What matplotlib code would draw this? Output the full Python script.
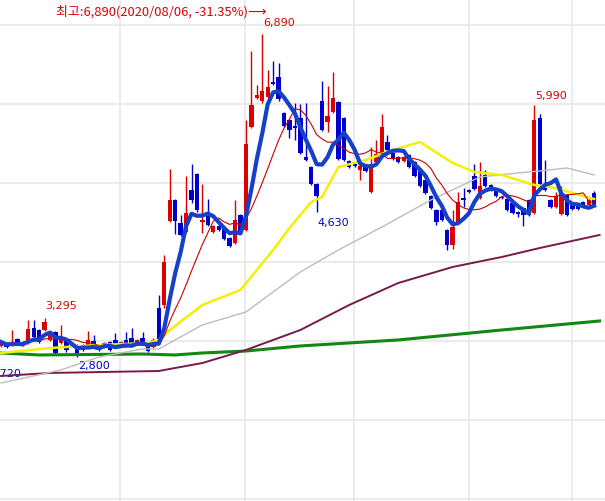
import matplotlib
matplotlib.use("Agg")
import matplotlib.pyplot as plt
import numpy as np
import pandas as pd

opens = [2937,2975,2949,3025,2987,2975,3165,3139,3139,3013,3114,2975,3013,2937,2949,2949,2924,3000,2949,2924,
         2987,3013,2949,3013,3038,2975,3038,2975,2924,3418,3456,4519,4785,4494,4380,4912,5114,4506,4595,4380,
         4456,4443,4304,4241,4595,4405,5709,6076,6038,6089,6279,6342,5886,5798,5722,5823,5329,5203,4988,6038,
         5773,5899,6026,5823,5279,5241,5165,5228,4886,5266,5393,5519,5380,5329,5279,5355,5266,5152,5038,4836,
         4658,4658,4405,4215,4506,4810,4912,5089,4810,5102,4975,4924,4823,4798,4747,4633,4684,4785,4620,5823,
         4975,4785,4696,4608,4848,4722,4722,4760,4722,4874]
highs = [3000,2987,3139,3038,3000,3266,3266,3152,3295,3114,3127,3203,3025,2987,2962,2962,3127,3076,2962,2987,
         3000,3101,3000,3114,3165,3025,3114,2987,3038,3582,4089,5177,4798,4595,5089,5241,5127,4988,4798,4468,
         4468,4456,4316,4785,4608,5798,6671,6241,6890,6431,6545,6519,5899,5811,6013,6000,6013,5215,5000,6292,
         6228,6405,6038,5836,5291,5253,5228,5241,5456,5545,5874,5608,5393,5342,5342,5367,5279,5165,5051,4848,
         4671,4671,4418,4658,4886,4937,4924,5241,5266,5165,4988,4937,4836,4810,4760,4646,4696,4798,5990,5874,
         5291,4798,4886,4962,4861,4734,4734,4772,4798,4899]
lows = [2924,2911,2937,2949,2937,2962,3038,2975,3127,3000,2836,2962,2861,2924,2800,2874,2911,2911,2874,2911,
        2874,2924,2937,2924,2937,2962,2949,2861,2911,2962,3418,4506,4354,4329,4367,4747,4633,4367,4456,4367,
        4392,4279,4190,4228,4367,4392,5697,6064,6013,6076,6241,6038,5709,5570,5545,5367,5279,4975,4630,5659,
        5646,5886,5291,5279,5190,5203,5038,5140,4874,5253,5380,5405,5291,5253,5266,5190,5076,4950,4861,4671,
        4468,4519,4152,4165,4494,4696,4874,4912,4798,4950,4899,4823,4798,4646,4608,4570,4456,4582,4608,4975,
        4899,4684,4684,4595,4582,4658,4658,4696,4709,4709]
closes = [2987,2924,2975,2962,2949,3152,3051,2987,3241,3101,2848,3013,2886,2975,2823,2886,3013,2924,2886,2975,
          2886,2937,2987,2937,2949,3013,2962,2874,3013,2975,4000,4785,4519,4342,4620,4785,4658,4532,4468,4456,
          4405,4291,4203,4532,4380,5494,5988,6114,6165,6216,6254,6064,5722,5671,5697,5380,5291,4988,4836,5671,
          5848,6076,5304,5291,5203,5215,5215,5152,5241,5367,5709,5418,5304,5266,5329,5203,5089,4962,4874,4684,
          4506,4532,4215,4443,4760,4785,4886,4924,4962,4962,4912,4836,4810,4658,4620,4608,4595,4595,5798,4988,
          4912,4696,4836,4874,4595,4671,4671,4709,4785,4722]

# longer moving averages (day index, price)
ma20_k = [0,9,18,27,29,31,37,44,50,53,57,59,62,67,72,77,83,87,92,98,102,105,109]
ma20_p = [2848,2911,2949,2975,3013,3139,3456,3646,4152,4430,4760,4823,5203,5291,5418,5519,5253,5140,5102,4975,4937,4874,4798]
ma60_k = [0,11,18,26,29,37,45,55,62,70,79,88,95,99,104,109]
ma60_p = [2468,2633,2797,2899,2899,3203,3367,3874,4152,4443,4785,5076,5127,5152,5190,5102]
ma120_k = [0,9,29,30,37,45,55,64,73,83,92,99,110]
ma120_p = [2557,2595,2620,2633,2721,2886,3139,3456,3734,3937,4063,4177,4342]
ma240_k = [0,7,26,32,37,45,55,73,92,110]
ma240_p = [2848,2823,2835,2823,2848,2873,2937,3013,3139,3253]

RED = "#dd0000"
BLUE = "#0000cc"

fig = plt.figure(figsize=(6.05, 5.01), dpi=100)
ax = fig.add_axes([0, 0, 1, 1])
ax.set_xlim(-0.2, 111)
ax.set_ylim(974, 7317)
for s in ax.spines.values():
    s.set_visible(False)
ax.set_xticks([])
ax.set_yticks([])

for p in [1000, 2000, 3000, 4000, 5000, 6000, 7000]:
    ax.axhline(p, color="#e6e6e6", lw=1.1, zorder=0)
for k in [21.9, 44.9, 64.9, 86.0, 105.0]:
    ax.axvline(k, color="#e6e6e6", lw=1.1, zorder=0)

n = len(closes)
idx = np.arange(n)
for i in range(n):
    o, h, l, c = opens[i], highs[i], lows[i], closes[i]
    col = RED if c >= o else BLUE
    ax.vlines(i, l, h, color=col, lw=1, zorder=2)
    ax.bar(i, max(abs(c - o), 15), bottom=min(o, c), width=0.8, color=col, zorder=3, linewidth=0)

ser = pd.Series(closes, dtype=float)
ma5 = ser.rolling(5, min_periods=1).mean()
ma10 = ser.rolling(10, min_periods=1).mean()

ax.plot(ma240_k, ma240_p, color="#118811", lw=2.2, zorder=4)
ax.plot(ma120_k, ma120_p, color="#7a1a4a", lw=1.4, zorder=4)
ax.plot(ma60_k, ma60_p, color="#bdbdbd", lw=1.0, zorder=4)
ax.plot(ma20_k, ma20_p, color="#f2f200", lw=1.8, zorder=4)
ax.plot(idx, ma10, color="#cc0000", lw=0.8, zorder=4)
ax.plot(idx, ma5, color="#1540c8", lw=3.0, zorder=5)

fs = 8
ax.text(51.1, 7026, "6,890", color=RED, fontsize=fs, ha="center", va="center")
ax.text(11, 3443, "3,295", color=RED, fontsize=fs, ha="center", va="center")
ax.text(17, 2683, "2,800", color=BLUE, fontsize=fs, ha="center", va="center")
ax.text(61, 4494, "4,630", color=BLUE, fontsize=fs, ha="center", va="center")
ax.text(101, 6102, "5,990", color=RED, fontsize=fs, ha="center", va="center")
ax.text(3.6, 2582, "2,720", color=BLUE, fontsize=fs, ha="right", va="center")

fig.text(161 / 605, 1 - 12 / 501, "최고:6,890(2020/08/06, -31.35%)⟶", color=RED,
         fontsize=9.3, ha="center", va="center", family=["Noto Sans CJK KR", "DejaVu Sans"])

fig.savefig("out.png", dpi=100, facecolor="white")
